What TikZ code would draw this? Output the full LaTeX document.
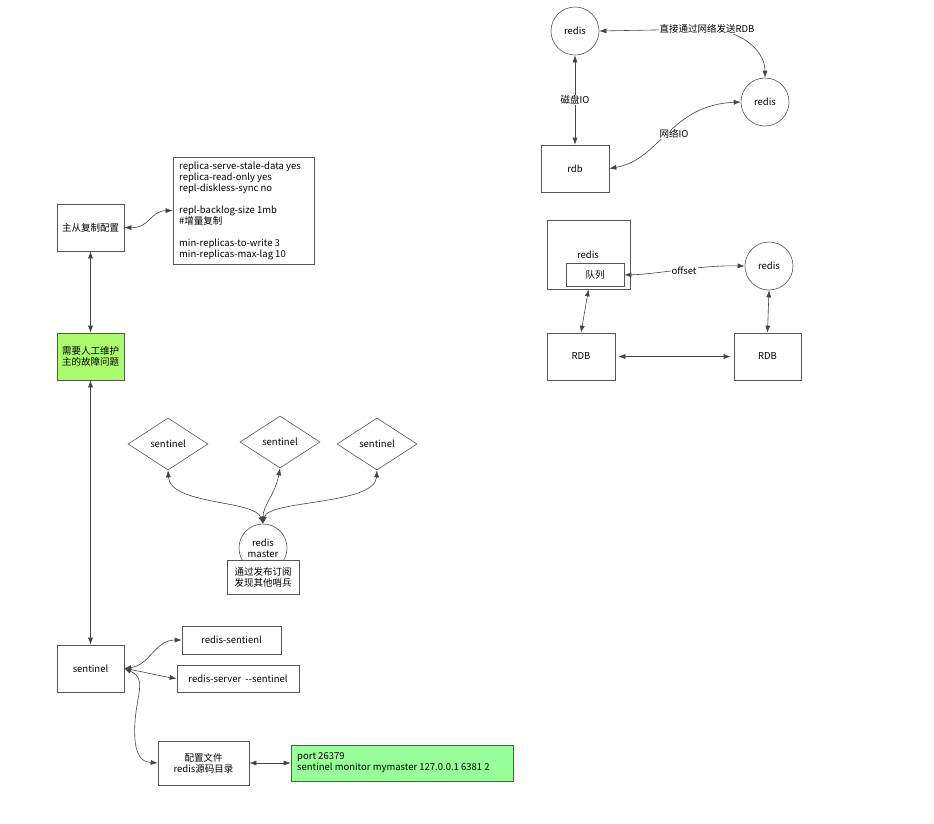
\documentclass[tikz,border=0pt]{standalone}
\usepackage{fontspec}
\setmainfont{Noto Sans CJK SC}
\usetikzlibrary{arrows.meta,shapes.geometric}
\definecolor{ln}{HTML}{444444}
\definecolor{bd}{HTML}{555555}
\definecolor{gA}{HTML}{AAFC6E}
\definecolor{gB}{HTML}{99FF99}
\tikzset{
  fs/.style={font=\fontsize{9.5}{11}\selectfont},
  box/.style={draw=bd,line width=0.6pt,fill=white,inner sep=0pt,fs,align=center},
  circ/.style={draw=bd,line width=0.6pt,circle,minimum size=48pt,inner sep=0pt,fill=white,fs,align=center},
  dia/.style={draw=bd,line width=0.6pt,diamond,minimum width=80pt,minimum height=52pt,inner sep=0pt,aspect=1.54,fill=white,fs},
  conn/.style={draw=ln,line width=0.6pt,{Latex[length=7pt,width=5pt]}-{Latex[length=7pt,width=5pt]}},
  conn1/.style={draw=ln,line width=0.6pt,-{Latex[length=7pt,width=5pt]}},
  lbl/.style={fill=white,inner sep=1pt,fs}
}
\begin{document}
\begin{tikzpicture}[x=1pt,y=-1pt]
\useasboundingbox[fill=white] (0,0) rectangle (934,823);
% top right group
\node[circ] (r1) at (575,31) {redis};
\node[circ] (r2) at (765,102) {redis};
\node[box,minimum width=68pt,minimum height=47pt] (rdb) at (575,168.5) {rdb};
\draw[conn] (r1.east) -- (707,29) to[out=0,in=90] (r2.north);
\node[lbl] (lab1) at (707,29) {直接通过网络发送RDB};
\draw[conn] (r1.south) -- node[lbl] {磁盘IO} (rdb.north);
\draw[conn] (rdb.east) .. controls (660,160) and (670,105) .. (r2.west);
\node[lbl] (lab2) at (674,134) {网络IO};
% second group
\node[box,minimum width=83pt,minimum height=69pt] (rb) at (588.5,254.5) {};
\node[fs] (rbl) at (588,255) {redis};
\node[box,minimum width=58pt,minimum height=23pt] (q) at (595,275) {队列};
\node[circ] (r3) at (769,266) {redis};
\node[box,minimum width=68pt,minimum height=47pt] (R1) at (581,356.5) {RDB};
\node[box,minimum width=67pt,minimum height=47pt] (R2) at (767.5,356.5) {RDB};
\draw[conn] (q.east) .. controls (660,274) and (700,265) .. (r3.west);
\node[lbl] (lab3) at (684,271) {offset};
\draw[conn] (rb.south) -- (R1.north);
\draw[conn] (r3.south) -- (R2.north);
\draw[conn] ([xshift=3pt]R1.east) -- ([xshift=-3pt]R2.west);
% left column
\node[box,minimum width=67pt,minimum height=47pt] (cfg) at (90.5,227.5) {主从复制配置};
\node[draw=bd,line width=0.6pt,fill=white,minimum width=141pt,minimum height=107pt,inner sep=0pt] (tb) at (243.5,210.5) {};
\node[anchor=north west,align=left,inner sep=0pt,fs] (tbt) at (179,162) {replica-serve-stale-data yes\\replica-read-only yes\\repl-diskless-sync no\\[11pt]repl-backlog-size 1mb\\\#增量复制\\[11pt]min-replicas-to-write 3\\min-replicas-max-lag 10};
\draw[conn] (cfg.east) .. controls (150,228) and (150,211) .. (tb.west);
\node[box,fill=gA,minimum width=67pt,minimum height=47pt] (gr) at (90.5,356.5) {需要人工维护\\主的故障问题};
\draw[conn] (cfg.south) -- (gr.north);
\node[box,minimum width=67pt,minimum height=47pt] (sen) at (90.5,668.5) {sentinel};
\draw[conn] (gr.south) -- (sen.north);
% sentinels
\node[dia] (s1) at (168,444) {sentinel};
\node[dia] (s2) at (280,442) {sentinel};
\node[dia] (s3) at (377,444) {sentinel};
\node[circ] (rm) at (263,548) {};
\node[fs,align=center] (rml) at (263,548) {redis\\master};
\node[box,minimum width=72pt,minimum height=34pt] (pub) at (263,577) {通过发布订阅\\发现其他哨兵};
\draw[conn] (rm.north) .. controls (255,500) and (170,505) .. (s1.south);
\draw[conn] (rm.north) .. controls (263,505) and (275,495) .. (s2.south);
\draw[conn] (rm.north) .. controls (268,500) and (375,505) .. (s3.south);
% bottom
\node[box,minimum width=99pt,minimum height=28pt] (rs) at (231.5,640) {redis-sentienl};
\node[box,minimum width=122pt,minimum height=27pt] (rsv) at (238,678.5) {redis-server\ \ -{}-sentinel};
\draw[conn] (sen.east) .. controls (150,665) and (155,640) .. (rs.west);
\draw[conn1] (sen.east) .. controls (145,672) and (160,676) .. (rsv.west);
\node[box,minimum width=91pt,minimum height=44pt] (pf) at (203.5,763) {配置文件\\redis源码目录};
\draw[conn] (sen.east) .. controls (150,680) and (132,700) .. (135,740) .. controls (137,760) and (145,762) .. (pf.west);
\node[draw=bd,line width=0.6pt,fill=gB,minimum width=222pt,minimum height=36pt,inner sep=0pt] (gp) at (402,763) {};
\node[anchor=west,align=left,inner sep=0pt,fs] (gpt) at (297,763) {port 26379\\sentinel monitor mymaster 127.0.0.1 6381 2};
\draw[conn] (pf.east) -- (gp.west);
\end{tikzpicture}
\end{document}
